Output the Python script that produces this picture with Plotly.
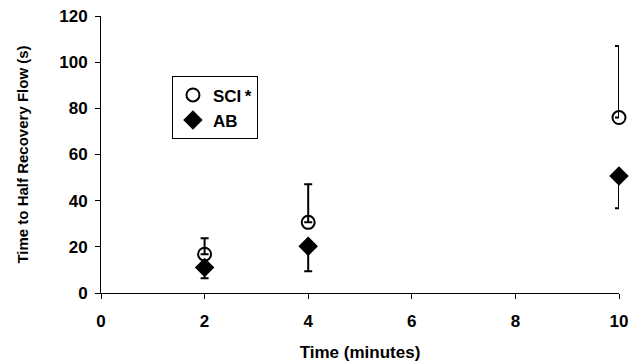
import plotly.graph_objects as go

time_min = [2, 4, 10]
sci_mean = [16.8, 30.6, 76.0]
sci_err_plus = [6.9, 16.5, 31.0]
ab_mean = [11.1, 20.2, 50.7]
ab_err_minus = [4.7, 10.8, 14.0]

FONT = "Liberation Sans, Arial, sans-serif"

fig = go.Figure()
fig.add_trace(go.Scatter(
    x=time_min, y=sci_mean, mode="markers", name="SCI\u2009*", cliponaxis=False,
    marker=dict(symbol="circle-open", size=13, color="black", line=dict(width=2, color="black")),
    error_y=dict(type="data", symmetric=False, array=sci_err_plus, arrayminus=[0, 0, 0],
                 color="black", thickness=2, width=4),
))
fig.add_trace(go.Scatter(
    x=time_min, y=ab_mean, mode="markers", name="AB", cliponaxis=False,
    marker=dict(symbol="diamond", size=15, color="black"),
    error_y=dict(type="data", symmetric=False, array=[0, 0, 0], arrayminus=ab_err_minus,
                 color="black", thickness=2, width=4),
))

fig.update_layout(
    width=642, height=362,
    margin=dict(l=101, r=23, t=16, b=69),
    paper_bgcolor="white", plot_bgcolor="white",
    font=dict(family=FONT, size=17, color="black", weight="bold"),
    showlegend=True,
    legend=dict(x=0.137, y=0.782, xanchor="left", yanchor="top",
                bordercolor="black", borderwidth=1, bgcolor="white",
                font=dict(size=17, family=FONT, weight="bold"),
                itemwidth=30),
    xaxis=dict(range=[0, 10], dtick=2, tick0=0, showline=True, linecolor="black", linewidth=1,
               ticks="outside", ticklen=5, tickcolor="black", showgrid=False, zeroline=False,
               automargin=False,
               ticklabelstandoff=8, tickfont=dict(size=17, family=FONT, weight="bold"),
               title=dict(text="Time (minutes)", standoff=16,
                          font=dict(size=17, family=FONT, weight="bold"))),
    yaxis=dict(range=[0, 120], dtick=20, tick0=0, showline=True, linecolor="black", linewidth=1,
               ticks="outside", ticklen=5, tickcolor="black", showgrid=False, zeroline=False,
               automargin=False,
               ticklabelstandoff=4, tickfont=dict(size=17, family=FONT, weight="bold"),
               title=dict(text="Time to Half Recovery Flow (s)", standoff=26,
                          font=dict(size=15, family=FONT, weight="bold"))),
)

fig.write_html("out.html")
